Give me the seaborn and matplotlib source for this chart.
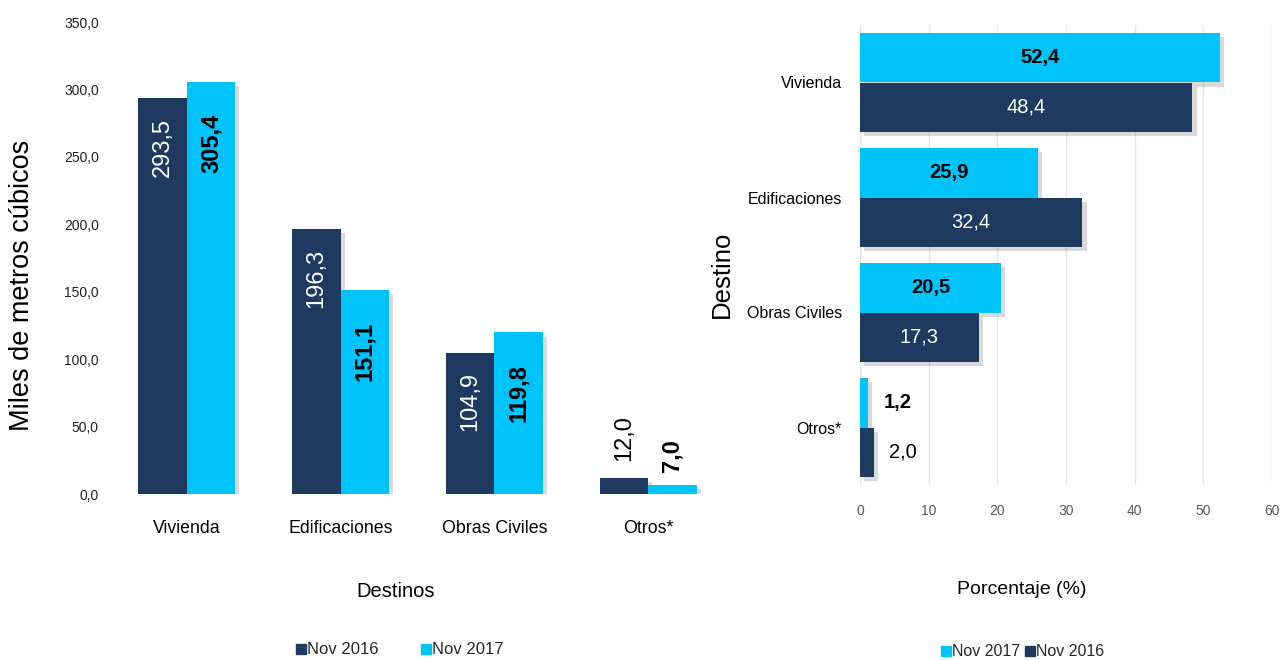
import matplotlib
matplotlib.use("Agg")
import matplotlib.pyplot as plt
import matplotlib.patheffects as pe
from matplotlib.lines import Line2D
from matplotlib import font_manager
import seaborn as sns
import pandas as pd

# ---------------- data ----------------
categories = ["Vivienda", "Edificaciones", "Obras Civiles", "Otros*"]
vol_2016 = [293.5, 196.3, 104.9, 12.0]
vol_2017 = [305.4, 151.1, 119.8, 7.0]
pct_2017 = [52.4, 25.9, 20.5, 1.2]
pct_2016 = [48.4, 32.4, 17.3, 2.0]
periods = ["Nov 2016", "Nov 2017"]
y_ticks_left = [0, 50, 100, 150, 200, 250, 300, 350]
x_ticks_right = [0, 10, 20, 30, 40, 50, 60]

DARK = "#1F3A60"
LIGHT = "#00C3F9"

sns.set_theme(style="white")
names = {f.name for f in font_manager.fontManager.ttflist}
NARROW = ["Liberation Sans Narrow", "Liberation Sans", "DejaVu Sans"] if "Liberation Sans Narrow" in names else ["Liberation Sans", "DejaVu Sans"]
ARIAL = ["Liberation Sans", "DejaVu Sans"]
plt.rcParams["font.family"] = NARROW


def fmt(v, dec=1):
    return f"{v:.{dec}f}".replace(".", ",")


df_vol = pd.DataFrame({
    "Destino": categories * 2,
    "Valor": vol_2016 + vol_2017,
    "Periodo": [periods[0]] * 4 + [periods[1]] * 4,
})
df_pct = pd.DataFrame({
    "Destino": categories * 2,
    "Valor": pct_2017 + pct_2016,
    "Periodo": [periods[1]] * 4 + [periods[0]] * 4,
})

fig = plt.figure(figsize=(12.87, 6.6), dpi=100)
W, H = 1287, 660

shadow = [pe.SimplePatchShadow(offset=(3, -3), shadow_rgbFace="#444444", alpha=0.2), pe.Normal()]

# ---------------- left chart ----------------
ax1 = fig.add_axes([110 / W, 1 - 494 / H, 615 / W, 472 / H])
sns.barplot(data=df_vol, x="Destino", y="Valor", hue="Periodo", hue_order=periods,
            palette=[DARK, LIGHT], width=0.63, saturation=1, legend=False,
            linewidth=0, ax=ax1)
ax1.set_ylim(0, 350)
ax1.set_xlim(-0.5, 3.5)
ax1.set_yticks(y_ticks_left)
ax1.set_yticklabels([fmt(v) for v in y_ticks_left], fontsize=10, color="#222222")
ax1.tick_params(axis="y", length=0, pad=8)
ax1.tick_params(axis="x", length=0, pad=19, labelsize=12.8, labelcolor="black")
for s in ax1.spines.values():
    s.set_visible(False)
for p in ax1.patches:
    p.set_path_effects(shadow)

for ci, cont in enumerate(ax1.containers):
    for bar in cont:
        v = bar.get_height()
        xc = bar.get_x() + bar.get_width() / 2
        bold = ci == 1
        if v > 50:
            ax1.annotate(fmt(v), (xc, v), xytext=(0, -23 if bold else -14),
                         textcoords="offset points",
                         rotation=90, ha="center", va="top", fontsize=17,
                         family=ARIAL, fontweight="bold" if bold else "normal",
                         color="black" if bold else "white")
        else:
            ax1.annotate(fmt(v), (xc, v), xytext=(0, 12 if not bold else 9),
                         textcoords="offset points", rotation=90, ha="center",
                         va="bottom", fontsize=17, family=ARIAL,
                         fontweight="bold" if bold else "normal", color="black")

ax1.set_xlabel("Destinos", fontsize=14.5, color="black")
ax1.xaxis.set_label_coords(0.465, -0.206)
ax1.xaxis.label.set_va("center")
ax1.set_ylabel("Miles de metros cúbicos", fontsize=19.5, family=ARIAL, color="black")
ax1.yaxis.set_label_coords(-0.143, 0.443)
ax1.yaxis.label.set_va("center")

h1 = [Line2D([], [], marker="s", ls="none", color=c, markersize=7) for c in (DARK, LIGHT)]
fig.legend(h1, periods, loc="center", bbox_to_anchor=(400 / W, 1 - 650 / H), ncol=2,
           frameon=False, fontsize=12, handlelength=0.5, handletextpad=0.1,
           columnspacing=2.6, borderpad=0)

# ---------------- right chart ----------------
ax2 = fig.add_axes([860 / W, 1 - 485 / H, 412 / W, 460 / H])
sns.barplot(data=df_pct, y="Destino", x="Valor", hue="Periodo",
            hue_order=[periods[1], periods[0]], palette=[LIGHT, DARK],
            width=0.86, saturation=1, legend=False, orient="h", linewidth=0, ax=ax2)
ax2.set_xlim(0, 60)
ax2.set_ylim(3.5, -0.5)
ax2.set_xticks(x_ticks_right)
ax2.set_xticklabels([str(v) for v in x_ticks_right], fontsize=10, color="#595959")
ax2.tick_params(axis="x", length=0, pad=14)
ax2.tick_params(axis="y", length=0, pad=13, labelsize=11.5, labelcolor="black")
ax2.grid(axis="x", color="#E6E6E6", linewidth=1)
ax2.set_axisbelow(True)
for s in ax2.spines.values():
    s.set_visible(False)
ax2.axvline(0, color="#D9D9D9", linewidth=1, zorder=0)
for p in ax2.patches:
    p.set_path_effects(shadow)

for ci, cont in enumerate(ax2.containers):
    bold = ci == 0
    for bar in cont:
        v = bar.get_width()
        yc = bar.get_y() + bar.get_height() / 2
        if v > 8:
            ax2.text(v / 2, yc, fmt(v), ha="center", va="center", fontsize=14.5,
                     fontweight="bold" if bold else "normal",
                     color="black" if bold else "white")
        else:
            ax2.text(v + 2.2, yc, fmt(v), ha="left", va="center", fontsize=14.5,
                     fontweight="bold" if bold else "normal", color="black")

ax2.set_xlabel("Porcentaje (%)", fontsize=14, color="black")
ax2.xaxis.set_label_coords(0.393, -0.228)
ax2.xaxis.label.set_va("center")
ax2.set_ylabel("Destino", fontsize=18.5, family=ARIAL, color="black")
ax2.yaxis.set_label_coords(-0.335, 0.457)
ax2.yaxis.label.set_va("center")

h2 = [Line2D([], [], marker="s", ls="none", color=c, markersize=7) for c in (LIGHT, DARK)]
fig.legend(h2, [periods[1], periods[0]], loc="center", bbox_to_anchor=(1023 / W, 1 - 652 / H),
           ncol=2, frameon=False, fontsize=11.5, handlelength=0.5, handletextpad=0.1,
           columnspacing=0.4, borderpad=0)

fig.savefig("out.png", dpi=100)
